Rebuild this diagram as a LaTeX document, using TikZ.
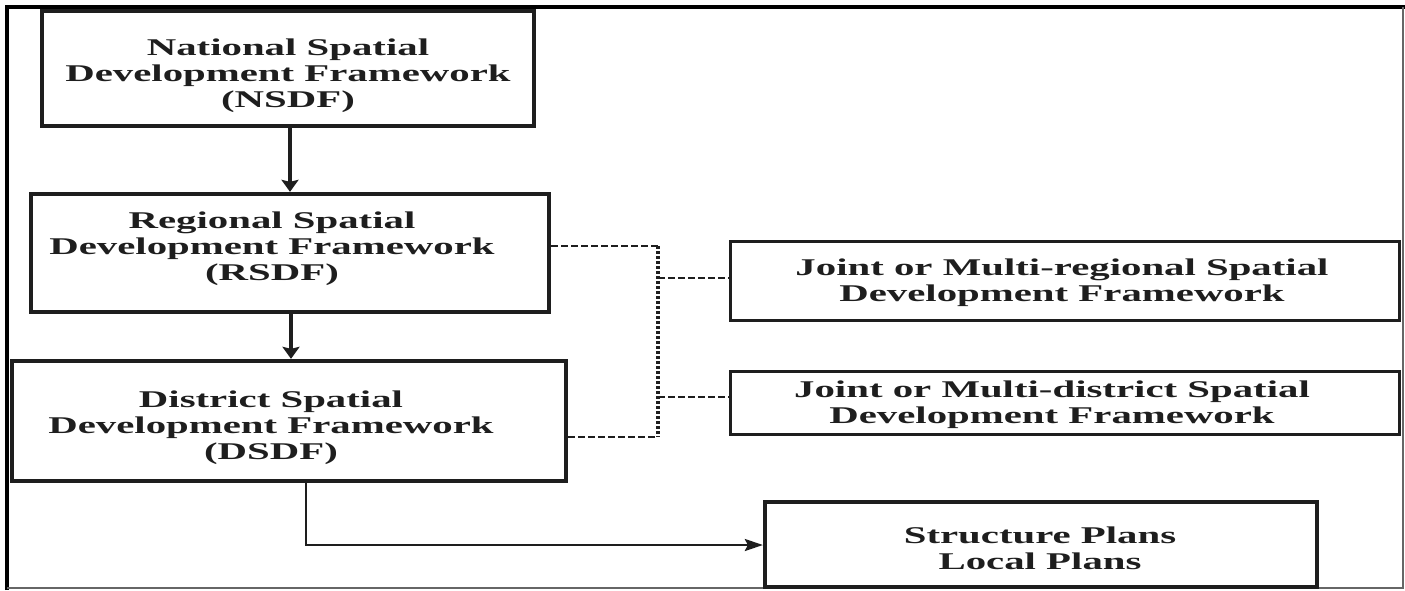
\documentclass[tikz,border=0pt]{standalone}
\usepackage{fontspec}
\newfontfamily\widefont[FakeStretch=1.7]{Liberation Serif}
\usetikzlibrary{arrows.meta,calc}
\definecolor{ink}{HTML}{1E1E1E}
\tikzset{
  mainbox/.style={draw=ink, line width=4.3pt, minimum width=#1, inner sep=0pt},
  thinbox/.style={draw=ink, line width=3pt, inner sep=0pt},
  lbl/.style={font=\widefont\bfseries\fontsize{24}{26}\selectfont, text=ink, align=center, inner sep=0pt},
  varrow/.style={draw=ink, line width=3.2pt, -{Stealth[length=12pt,width=17pt,inset=2pt]}},
  harrow/.style={draw=ink, line width=2.6pt, -{Stealth[length=18pt,width=12pt,inset=3pt]}},
  hdash/.style={draw=ink, line width=2.5pt, dash pattern=on 6.5pt off 3.5pt},
  vdot/.style={draw=ink, line width=3.8pt, dash pattern=on 3pt off 2pt},
}
\begin{document}
\begin{tikzpicture}[x=1pt,y=-1pt]
\useasboundingbox (0,0) rectangle (1405,590);
% frame
\draw[line width=4pt, black] (7,590) -- (7,7) -- (1405,7);
\draw[line width=1.5pt, black!60] (1403,7) -- (1403,588) -- (7,588);
% boxes
\node[mainbox=492pt, minimum height=115pt] (nsdf) at (288,68.5) {};
\node[mainbox=518pt, minimum height=118pt] (rsdf) at (290,253) {};
\node[mainbox=554pt, minimum height=120pt] (dsdf) at (289,421) {};
\node[thinbox, minimum width=669pt, minimum height=79pt] (jr) at (1064.5,280.5) {};
\node[thinbox, minimum width=669pt, minimum height=63pt] (jd) at (1064.5,402.5) {};
\node[mainbox=552pt, minimum height=85pt] (sp) at (1041,544.5) {};
% texts
\node[lbl] (tnsdf) at (288,76) {National Spatial\\Development Framework\\(NSDF)};
\node[lbl] (trsdf) at (272,248.5) {Regional Spatial\\Development Framework\\(RSDF)};
\node[lbl] (tdsdf) at (271,428) {District Spatial\\Development Framework\\(DSDF)};
\node[lbl] (tjr) at (1062,283) {Joint or Multi-regional Spatial\\Development Framework};
\node[lbl] (tjd) at (1052,405) {Joint or Multi-district Spatial\\Development Framework};
\node[lbl] (tsp) at (1040,548) {Structure Plans\\Local Plans};
% arrows
\draw[varrow] (nsdf.south -| 290,0) -- (rsdf.north -| 290,0);
\draw[varrow] (rsdf.south -| 291,0) -- (dsdf.north -| 291,0);
\coordinate (dturn) at (306,545);
\draw[harrow] (dsdf.south -| dturn) -- (dturn) -- (sp.west |- dturn);
% dashed links
\coordinate (bt) at (658,246);
\coordinate (bb) at (658,437);
\draw[hdash] (rsdf.east |- bt) -- (bt);
\draw[hdash] (dsdf.east |- bb) -- (bb);
\draw[vdot] (bt) -- (bb);
\draw[hdash] (bt |- 0,278) -- (jr.west |- 0,278);
\draw[hdash] (bt |- 0,397) -- (jd.west |- 0,397);
\end{tikzpicture}
\end{document}
